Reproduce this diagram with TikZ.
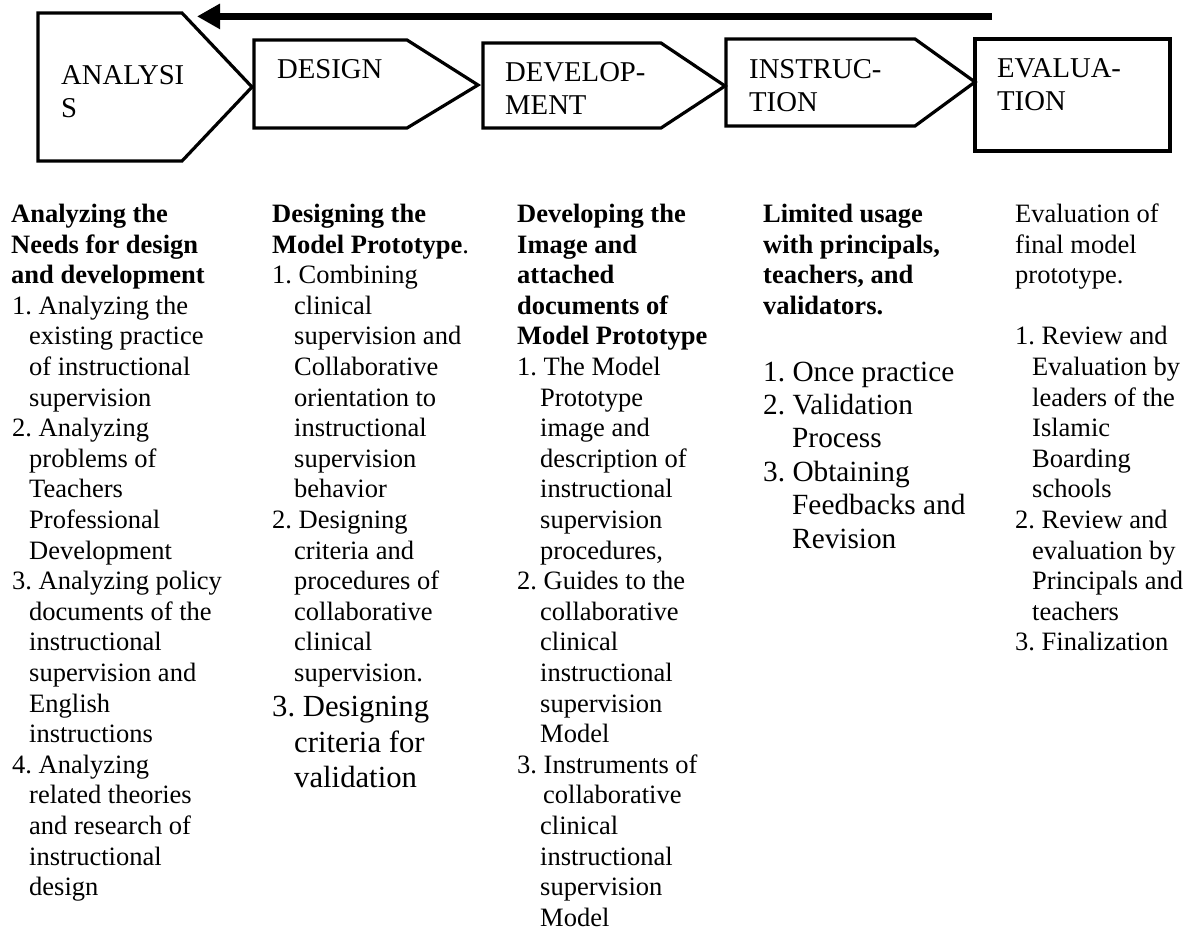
\documentclass[tikz,border=0pt]{standalone}
\usepackage{fontspec}
\setmainfont{Liberation Serif}
\usetikzlibrary{arrows.meta}
\frenchspacing
\newcommand\bodyf{\fontsize{26.5}{30.6}\selectfont}
\newcommand\bigf{\fontsize{30.7}{35.3}\selectfont}
\newcommand\midf{\fontsize{29.3}{33.4}\selectfont}
\newcommand\labf{\fontsize{28.7}{33}\selectfont}
\newcommand\Ln[2][0pt]{\hbox{\kern#1\relax #2}}
\tikzset{
  stage/.style={draw=black, line width=3.2pt, line join=miter},
  lab/.style={anchor=base west, inner sep=0pt},
  col/.style={anchor=base west, inner sep=0pt},
  back/.style={line width=7.3pt, -{Triangle[length=23pt,width=24pt]}}
}
\begin{document}
\begin{tikzpicture}[x=1pt,y=-1pt]
\frenchspacing
\useasboundingbox (0,0) rectangle (1192,931);
% stage shapes
\draw[stage] (38,13) -- (182,13) -- (252,87) -- (182,161) -- (38,161) -- cycle;
\draw[stage] (254,40) -- (407,40) -- (478,85) -- (407,128) -- (254,128) -- cycle;
\draw[stage] (483,43) -- (661,43) -- (725,86) -- (661,128) -- (483,128) -- cycle;
\draw[stage] (726,39) -- (915,39) -- (975,82) -- (915,126) -- (726,126) -- cycle;
\draw[stage] (975,39) rectangle (1170,151);
% stage labels
\node[lab] (lA) at (61,85) {\vtop{\labf\Ln{ANALYSI}\Ln{S}}};
\node[lab] (lD) at (277,79) {\vtop{\labf\Ln{DESIGN}}};
\node[lab] (lV) at (505,82) {\vtop{\labf\Ln{DEVELOP-}\Ln{MENT}}};
\node[lab] (lI) at (749,79) {\vtop{\labf\Ln{INSTRUC-}\Ln{TION}}};
\node[lab] (lE) at (997,78) {\vtop{\labf\Ln{EVALUA-}\Ln{TION}}};
% feedback arrow
\coordinate (arrS) at (992,16.4);
\coordinate (arrE) at (197,16.4);
\draw[back] (arrS) -- (arrE);
% column 1
\node[col] (c1) at (11,222.5) {\vtop{\bodyf
\Ln{\bfseries Analyzing the}
\Ln{\bfseries Needs for design}
\Ln{\bfseries and development}
\Ln[1pt]{1. Analyzing the}
\Ln[18pt]{existing practice}
\Ln[18pt]{of instructional}
\Ln[18pt]{supervision}
\Ln[1pt]{2. Analyzing}
\Ln[18pt]{problems of}
\Ln[18pt]{Teachers}
\Ln[18pt]{Professional}
\Ln[18pt]{Development}
\Ln[1pt]{3. Analyzing policy}
\Ln[18pt]{documents of the}
\Ln[18pt]{instructional}
\Ln[18pt]{supervision and}
\Ln[18pt]{English}
\Ln[18pt]{instructions}
\Ln[1pt]{4. Analyzing}
\Ln[18pt]{related theories}
\Ln[18pt]{and research of}
\Ln[18pt]{instructional}
\Ln[18pt]{design}}};
% column 2
\node[col] (c2) at (272,222.5) {\vtop{\bodyf
\Ln{\bfseries Designing the}
\Ln{\bfseries Model Prototype\mdseries.}
\Ln{1. Combining}
\Ln[22pt]{clinical}
\Ln[22pt]{supervision and}
\Ln[22pt]{Collaborative}
\Ln[22pt]{orientation to}
\Ln[22pt]{instructional}
\Ln[22pt]{supervision}
\Ln[22pt]{behavior}
\Ln{2. Designing}
\Ln[22pt]{criteria and}
\Ln[22pt]{procedures of}
\Ln[22pt]{collaborative}
\Ln[22pt]{clinical}
\Ln[22pt]{supervision.}
{\bigf
\Ln{3. Designing}
\Ln[22pt]{criteria for}
\Ln[22pt]{validation}}}};
% column 3
\node[col] (c3) at (517,222.5) {\vtop{\bodyf
\Ln{\bfseries Developing the}
\Ln{\bfseries Image and}
\Ln{\bfseries attached}
\Ln{\bfseries documents of}
\Ln{\bfseries Model Prototype}
\Ln{1. The Model}
\Ln[23pt]{Prototype}
\Ln[23pt]{image and}
\Ln[23pt]{description of}
\Ln[23pt]{instructional}
\Ln[23pt]{supervision}
\Ln[23pt]{procedures,}
\Ln{2. Guides to the}
\Ln[23pt]{collaborative}
\Ln[23pt]{clinical}
\Ln[23pt]{instructional}
\Ln[23pt]{supervision}
\Ln[23pt]{Model}
\Ln{3. Instruments of}
\Ln[26pt]{collaborative}
\Ln[23pt]{clinical}
\Ln[23pt]{instructional}
\Ln[23pt]{supervision}
\Ln[23pt]{Model}}};
% column 4
\node[col] (c4) at (763,222.5) {\vtop{\bodyf
\Ln{\bfseries Limited usage}
\Ln{\bfseries with principals,}
\Ln{\bfseries teachers, and}
\Ln{\bfseries validators.}}};
\node[col] (c4b) at (763,381) {\vtop{\midf
\Ln{1. Once practice}
\Ln{2. Validation}
\Ln[29pt]{Process}
\Ln{3. Obtaining}
\Ln[29pt]{Feedbacks and}
\Ln[29pt]{Revision}}};
% column 5
\node[col] (c5) at (1015,222.5) {\vtop{\bodyf
\Ln{Evaluation of}
\Ln{final model}
\Ln{prototype.}
\Ln{}
\Ln{1. Review and}
\Ln[17pt]{Evaluation by}
\Ln[17pt]{leaders of the}
\Ln[17pt]{Islamic}
\Ln[17pt]{Boarding}
\Ln[17pt]{schools}
\Ln{2. Review and}
\Ln[17pt]{evaluation by}
\Ln[17pt]{Principals and}
\Ln[17pt]{teachers}
\Ln{3. Finalization}}};
\end{tikzpicture}
\end{document}
